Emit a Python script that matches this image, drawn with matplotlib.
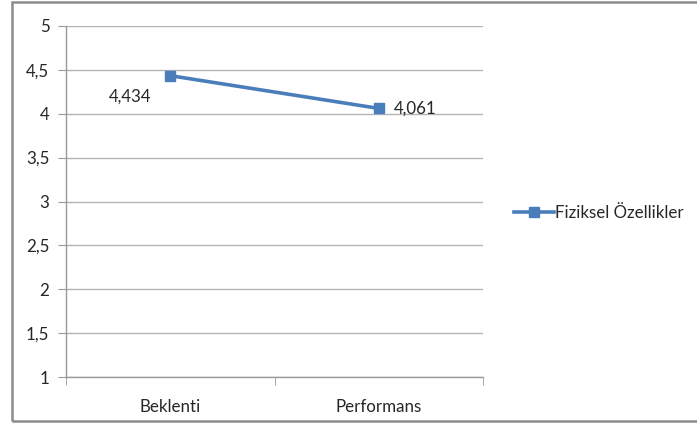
import matplotlib
matplotlib.use("Agg")
import matplotlib.pyplot as plt
from matplotlib.patches import Rectangle
from matplotlib.lines import Line2D
from matplotlib.ticker import FuncFormatter, FixedLocator

plt.rcParams['font.family'] = ['Lato', 'DejaVu Sans']

categories = ["Beklenti", "Performans"]
values = [4.434, 4.061]
series_name = "Fiziksel Özellikler"
y_ticks = [1, 1.5, 2, 2.5, 3, 3.5, 4, 4.5, 5]

W, H = 697, 426
fig = plt.figure(figsize=(W / 100, H / 100), dpi=100)

# outer chart frame
fig.patches.append(Rectangle((12 / W, 5 / H), 700 / W, (424 - 5) / H,
                             transform=fig.transFigure, fill=False,
                             edgecolor="#8c8c8c", linewidth=1.8))

left, right, top, bottom = 66, 483, 26, 377
ax = fig.add_axes([left / W, (H - bottom) / H, (right - left) / W, (bottom - top) / H])

line_color = "#4a7ebb"
grid_color = "#b3b3b3"
text_color = "#262626"
fs = 12.2

x = list(range(len(categories)))
ax.plot(x, values, color=line_color, linewidth=2.6, marker="s",
        markersize=7.5, markeredgecolor=line_color, markerfacecolor=line_color,
        zorder=3)

ax.set_xlim(-0.5, len(categories) - 0.5)
ax.set_ylim(1, 5)
ax.yaxis.set_major_locator(FixedLocator(y_ticks))
ax.yaxis.set_major_formatter(FuncFormatter(lambda v, p: f"{v:g}".replace(".", ",")))
ax.grid(axis="y", color=grid_color, linewidth=1.0)
ax.set_axisbelow(True)

for s in ["top", "right"]:
    ax.spines[s].set_visible(False)
for s in ["left", "bottom"]:
    ax.spines[s].set_color("#9a9a9a")
    ax.spines[s].set_linewidth(1.0)

ax.set_xticks(x)
ax.set_xticklabels(categories)
ax.xaxis.set_minor_locator(FixedLocator([-0.5, 0.5, 1.5]))
ax.tick_params(axis="x", which="major", length=0, pad=16, labelsize=fs, labelcolor=text_color)
ax.tick_params(axis="x", which="minor", length=6, color="#9a9a9a", direction="out")
ax.tick_params(axis="y", length=6, color="#9a9a9a", pad=6, labelsize=fs, labelcolor=text_color)

# data labels
ax.annotate(f"{values[0]:.3f}".replace(".", ","), (x[0], values[0]),
            xytext=(-40, -21), textcoords="offset pixels", ha="center", va="center",
            fontsize=fs, color=text_color)
ax.annotate(f"{values[1]:.3f}".replace(".", ","), (x[1], values[1]),
            xytext=(15, 0), textcoords="offset pixels", ha="left", va="center",
            fontsize=fs, color=text_color)

handle = Line2D([], [], color=line_color, linewidth=2.6, marker="s", markersize=7.5)
fig.legend([handle], [series_name], loc="center left",
           bbox_to_anchor=(507 / W, (H - 213) / H), frameon=False,
           handlelength=2.4, handletextpad=0.05, fontsize=fs,
           labelcolor=text_color, borderaxespad=0)

fig.savefig("out.png", dpi=100)
